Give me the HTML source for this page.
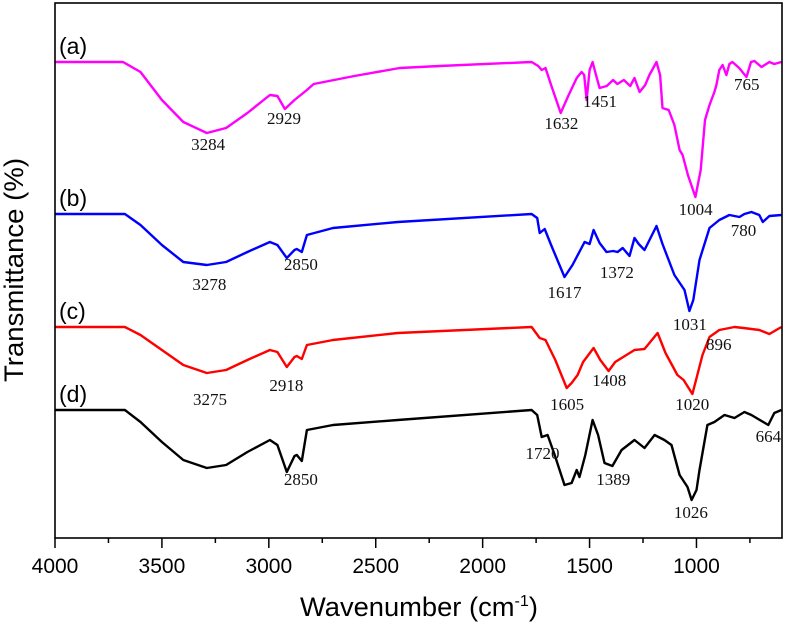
<!DOCTYPE html>
<html><head><meta charset="utf-8"><style>
body{margin:0;background:#fff;}
svg{display:block;}
.pk{font-family:"Liberation Serif",serif;font-size:17px;fill:#111;}
.tk{font-family:"Liberation Sans",sans-serif;font-size:21px;fill:#000;}
.lb{font-family:"Liberation Sans",sans-serif;font-size:23px;fill:#000;}
.ttl{font-family:"Liberation Sans",sans-serif;font-size:27px;fill:#000;}
</style></head><body>
<svg id="chart" width="785" height="625" viewBox="0 0 785 625">
<g id="marks"></g>
<g id="axes"></g>
<g id="labels"></g>
<text x="419" y="616" class="ttl" text-anchor="middle" textLength="238" lengthAdjust="spacingAndGlyphs">Wavenumber (cm<tspan dy="-10" font-size="16">-1</tspan><tspan dy="10">)</tspan></text>
<text transform="translate(23,270) rotate(-90)" class="ttl" text-anchor="middle" textLength="224" lengthAdjust="spacingAndGlyphs">Transmittance (%)</text>
</svg>
<script>
// wavenumber (cm-1) and depth readings (a.u., inverted axis: 0 = top of frame)
const wnA=[4000,3682,3600,3500,3400,3290,3200,3100,2995,2960,2925,2880,2822,2790,2600,2388,2201,1771,1740,1724,1706,1680,1635,1600,1560,1537,1525,1514,1500,1486,1470,1453,1420,1390,1370,1340,1310,1290,1266,1240,1220,1187,1170,1159,1130,1103,1079,1065,1040,1005,980,960,939,916,907,893,878,860,846,832,800,766,745,729,696,659,636,603];
const dA=[59,59,69,97,119,130,125,110,92,93,106,97,87,81,73,65,63,59,63,67,65,82,110,93,75,69,72,97,67,59,72,85,83,77,81,77,83,75,89,82,72,59,72,105,107,122,147,152,172,194,167,117,102,89,82,67,62,72,61,59,65,74,59,58,64,59,61,59];
const wnB=[4000,3673,3600,3500,3400,3290,3200,3100,2995,2960,2916,2880,2869,2846,2822,2700,2397,1771,1745,1733,1710,1680,1617,1580,1523,1500,1481,1453,1421,1390,1369,1345,1313,1290,1270,1243,1187,1159,1103,1056,1033,1015,986,939,893,846,799,776,743,706,690,659,603];
const dB=[211,211,222,242,259,262,259,249,239,242,255,247,246,249,232,225,219,211,215,230,226,242,274,262,239,241,227,240,249,248,249,245,253,235,241,247,223,241,272,287,308,297,257,225,217,212,214,211,209,212,219,213,212];
const wnC=[4000,3673,3600,3500,3400,3290,3200,3100,2995,2960,2916,2880,2869,2846,2822,2700,2397,1771,1733,1706,1660,1607,1584,1556,1530,1481,1450,1411,1380,1350,1290,1243,1182,1145,1089,1060,1019,972,939,893,822,780,706,659,603];
const dC=[324,324,332,347,362,370,367,357,347,349,364,354,353,356,342,337,330,324,335,337,357,385,380,372,359,345,357,368,359,355,347,346,330,350,372,377,391,352,334,327,324,325,327,331,324];
const wnD=[4000,3673,3600,3500,3400,3290,3200,3100,2995,2960,2916,2880,2869,2846,2822,2700,2397,1771,1745,1724,1696,1663,1617,1584,1560,1547,1520,1486,1460,1430,1393,1350,1290,1243,1196,1150,1117,1079,1042,1023,1000,986,949,916,869,822,776,743,664,636,603];
const dD=[407,407,419,439,457,465,462,449,437,442,469,453,452,458,427,422,417,407,412,434,432,452,482,480,467,474,452,417,432,460,463,447,437,445,432,437,442,472,484,497,487,467,422,419,412,415,409,412,422,410,407];
const xTicks=[4000,3500,3000,2500,2000,1500,1000];
const seriesNames=["(a)","(b)","(c)","(d)"];
const peakText=["3284","2929","1632","1451","1004","765","3278","2850","1617","1372","1031","780","3275","2918","1605","1408","1020","896","2850","1720","1389","1026","664"];
const peakWn=[3284,2929,1632,1451,1004,765,3278,2850,1617,1372,1031,780,3275,2918,1605,1408,1020,896,2850,1720,1389,1026,664];
const peakD=[147,121,126,104,212,87,287,267,295,275,327,233,402,388,407,383,407,347,482,456,482,515,439];

const L=55,R=782,T=3,B=538,WMAX=4000,WMIN=600,DMAX=535;
const xS=w=>L+(WMAX-w)/(WMAX-WMIN)*(R-L);
const yS=d=>T+d/DMAX*(B-T);
const NS="http://www.w3.org/2000/svg";
function mk(tag,attrs,parent){const e=document.createElementNS(NS,tag);for(const k in attrs)e.setAttribute(k,attrs[k]);parent.appendChild(e);return e;}
const marks=document.getElementById('marks'),axes=document.getElementById('axes'),labels=document.getElementById('labels');
const series=[[wnA,dA,'#ff00ff','spectrum-a'],[wnB,dB,'#0000ff','spectrum-b'],[wnC,dC,'#ff0000','spectrum-c'],[wnD,dD,'#000000','spectrum-d']];
series.forEach((s,i)=>{
  const pts=s[0].map((w,j)=>xS(w).toFixed(1)+','+yS(s[1][j]).toFixed(1)).join(' ');
  const p=mk('polyline',{points:pts,fill:'none',stroke:s[2],'stroke-width':2.4,'stroke-linejoin':'round'},marks);
  
  
  const t=mk('text',{x:59,y:yS(s[1][0])-8,class:'lb'},labels);
  t.textContent=seriesNames[i];
  
  
});
peakText.forEach((txt,i)=>{
  const t=mk('text',{x:xS(peakWn[i]),y:yS(peakD[i]),class:'pk','text-anchor':'middle'},labels);
  t.textContent=txt;
  
  
});
const fr=mk('rect',{x:L,y:T,width:R-L,height:B-T,fill:'none',stroke:'#000','stroke-width':1.6},axes);


for(let w=4000;w>=600;w-=250){
  const major=w%500===0;
  const tl=mk('line',{x1:xS(w),x2:xS(w),y1:B,y2:B+(major?10:5),stroke:'#000','stroke-width':1.5},axes);
  
  
}
xTicks.forEach(w=>{
  const t=mk('text',{x:xS(w),y:573,class:'tk','text-anchor':'middle'},axes);
  t.textContent=w;
  
  
});
</script>
</body></html>
